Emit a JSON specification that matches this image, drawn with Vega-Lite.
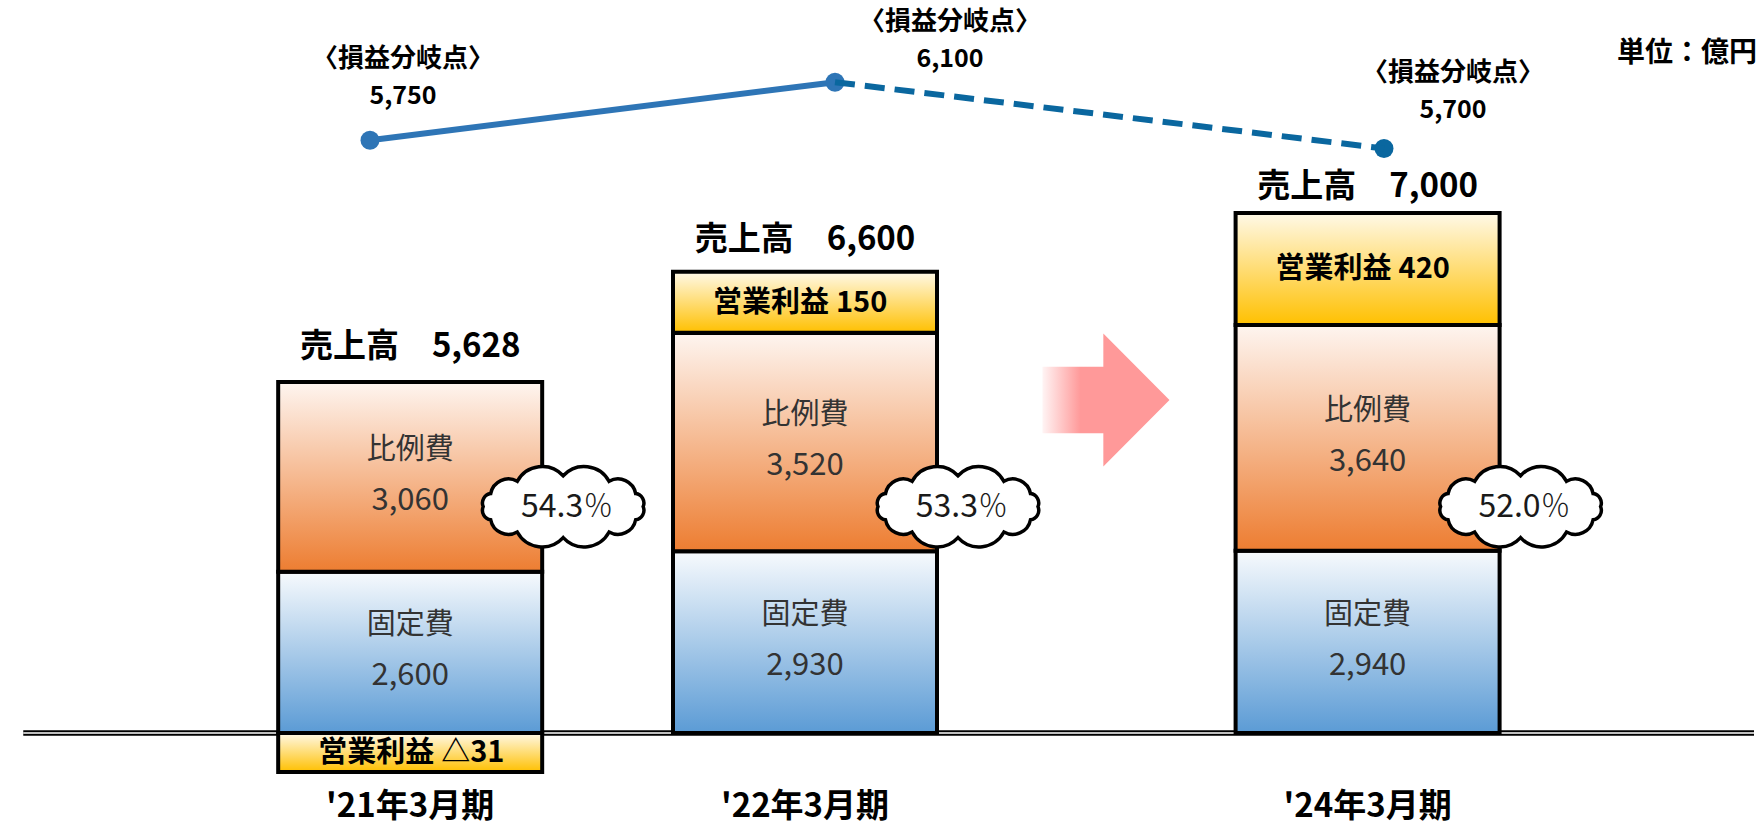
{
  "$schema": "https://vega.github.io/schema/vega-lite/v6.json",
  "width": 1757,
  "height": 830,
  "autosize": {"type": "fit", "contains": "padding"},
  "padding": 0,
  "background": "white",
  "config": {
    "view": {"stroke": null},
    "font": "Noto Sans CJK JP",
    "text": {"font": "Noto Sans CJK JP"},
    "locale": {
      "number": {
        "decimal": ".",
        "thousands": ",",
        "grouping": [3],
        "currency": ["売上高　", ""],
        "minus": "△"
      }
    }
  },
  "datasets": {
    "periods": [
      {"年度": 2021, "期": "'21年3月期", "売上高": 5628, "営業利益": -31, "損益分岐点": 5750, "比例費率": 54.3},
      {"年度": 2022, "期": "'22年3月期", "売上高": 6600, "営業利益": 150, "損益分岐点": 6100, "比例費率": 53.3},
      {"年度": 2024, "期": "'24年3月期", "売上高": 7000, "営業利益": 420, "損益分岐点": 5700, "比例費率": 52.0}
    ],
    "costs": [
      {"年度": 2021, "区分": "固定費", "金額": 2600},
      {"年度": 2021, "区分": "比例費", "金額": 3060},
      {"年度": 2022, "区分": "固定費", "金額": 2930},
      {"年度": 2022, "区分": "比例費", "金額": 3520},
      {"年度": 2024, "区分": "固定費", "金額": 2940},
      {"年度": 2024, "区分": "比例費", "金額": 3640}
    ]
  },
  "layer": [
    {
      "layer": [
        {
          "data": {"values": [{"金額": 0}]},
          "mark": {"type": "rule", "stroke": "black", "strokeWidth": 5.5},
          "encoding": {
            "x": {"datum": 2020.02, "type": "quantitative", "scale": {"domain": [2021, 2022, 2024], "range": [404, 805, 1372], "zero": false, "nice": false}, "axis": null},
            "x2": {"value": "width"},
            "y": {"field": "金額", "type": "quantitative", "scale": {"domain": [-1565, 11822], "zero": false, "nice": false}, "axis": null}
          }
        },
        {
          "data": {"values": [{"金額": 0}]},
          "mark": {"type": "rule", "stroke": "white", "strokeWidth": 1.6},
          "encoding": {
            "x": {"datum": 2020.02, "type": "quantitative", "scale": {"domain": [2021, 2022, 2024], "range": [404, 805, 1372], "zero": false, "nice": false}, "axis": null},
            "x2": {"value": "width"},
            "y": {"field": "金額", "type": "quantitative", "scale": {"domain": [-1565, 11822], "zero": false, "nice": false}, "axis": null}
          }
        },
        {
          "data": {"name": "costs"},
          "transform": [
            {"stack": "金額", "groupby": ["年度"], "sort": [{"field": "区分", "order": "ascending"}], "as": ["下端", "上端"]},
            {"filter": {"field": "区分", "equal": "固定費"}}
          ],
          "mark": {
            "type": "bar", "width": 264, "stroke": "black", "strokeWidth": 4,
            "fill": {"gradient": "linear", "x1": 0, "y1": 0, "x2": 0, "y2": 1, "stops": [{"offset": 0, "color": "#F7FAFD"}, {"offset": 1, "color": "#5B9BD5"}]}
          },
          "encoding": {
            "x": {"field": "年度", "type": "quantitative", "scale": {"domain": [2021, 2022, 2024], "range": [404, 805, 1372], "zero": false, "nice": false}, "axis": null},
            "y": {"field": "下端", "type": "quantitative", "scale": {"domain": [-1565, 11822], "zero": false, "nice": false}, "axis": null},
            "y2": {"field": "上端"}
          }
        },
        {
          "data": {"name": "costs"},
          "transform": [
            {"stack": "金額", "groupby": ["年度"], "sort": [{"field": "区分", "order": "ascending"}], "as": ["下端", "上端"]},
            {"filter": {"field": "区分", "equal": "比例費"}}
          ],
          "mark": {
            "type": "bar", "width": 264, "stroke": "black", "strokeWidth": 4,
            "fill": {"gradient": "linear", "x1": 0, "y1": 0, "x2": 0, "y2": 1, "stops": [{"offset": 0, "color": "#FEF5F0"}, {"offset": 1, "color": "#ED7D31"}]}
          },
          "encoding": {
            "x": {"field": "年度", "type": "quantitative", "scale": {"domain": [2021, 2022, 2024], "range": [404, 805, 1372], "zero": false, "nice": false}, "axis": null},
            "y": {"field": "下端", "type": "quantitative", "scale": {"domain": [-1565, 11822], "zero": false, "nice": false}, "axis": null},
            "y2": {"field": "上端"}
          }
        },
        {
          "data": {"name": "periods"},
          "transform": [{"filter": {"field": "年度", "equal": 2021}}],
          "mark": {
            "type": "bar", "width": 264, "yOffset": 37, "stroke": "black", "strokeWidth": 4,
            "fill": {"gradient": "linear", "x1": 0, "y1": 0, "x2": 0, "y2": 1, "stops": [{"offset": 0, "color": "#FFF9E8"}, {"offset": 1, "color": "#FFC000"}]}
          },
          "encoding": {
            "x": {"field": "年度", "type": "quantitative", "scale": {"domain": [2021, 2022, 2024], "range": [404, 805, 1372], "zero": false, "nice": false}, "axis": null},
            "y": {"field": "営業利益", "type": "quantitative", "scale": {"domain": [-1565, 11822], "zero": false, "nice": false}, "axis": null},
            "y2": {"datum": 0}
          }
        },
        {
          "data": {"name": "periods"},
          "transform": [{"filter": {"field": "年度", "equal": 2022}}],
          "mark": {
            "type": "bar", "width": 264, "yOffset": -52, "y2Offset": 9, "stroke": "black", "strokeWidth": 4,
            "fill": {"gradient": "linear", "x1": 0, "y1": 0, "x2": 0, "y2": 1, "stops": [{"offset": 0, "color": "#FFF9E8"}, {"offset": 1, "color": "#FFC000"}]}
          },
          "encoding": {
            "x": {"field": "年度", "type": "quantitative", "scale": {"domain": [2021, 2022, 2024], "range": [404, 805, 1372], "zero": false, "nice": false}, "axis": null},
            "y": {"field": "売上高", "type": "quantitative", "scale": {"domain": [-1565, 11822], "zero": false, "nice": false}, "axis": null},
            "y2": {"field": "売上高"}
          }
        },
        {
          "data": {"name": "periods"},
          "transform": [{"filter": {"field": "年度", "equal": 2024}}],
          "mark": {
            "type": "bar", "width": 264, "yOffset": -86, "y2Offset": 26, "stroke": "black", "strokeWidth": 4,
            "fill": {"gradient": "linear", "x1": 0, "y1": 0, "x2": 0, "y2": 1, "stops": [{"offset": 0, "color": "#FFF9E8"}, {"offset": 1, "color": "#FFC000"}]}
          },
          "encoding": {
            "x": {"field": "年度", "type": "quantitative", "scale": {"domain": [2021, 2022, 2024], "range": [404, 805, 1372], "zero": false, "nice": false}, "axis": null},
            "y": {"field": "売上高", "type": "quantitative", "scale": {"domain": [-1565, 11822], "zero": false, "nice": false}, "axis": null},
            "y2": {"field": "売上高"}
          }
        },
        {
          "data": {"name": "periods"},
          "transform": [{"filter": {"field": "年度", "equal": 2021}}],
          "mark": {"type": "text", "text": "営業利益", "align": "right", "baseline": "middle", "dx": 24, "dy": 18, "fontSize": 29, "fontWeight": "bold", "color": "#000000"},
          "encoding": {
            "x": {"field": "年度", "type": "quantitative", "scale": {"domain": [2021, 2022, 2024], "range": [404, 805, 1372], "zero": false, "nice": false}, "axis": null},
            "y": {"field": "営業利益", "type": "quantitative", "scale": {"domain": [-1565, 11822], "zero": false, "nice": false}, "axis": null}
          }
        },
        {
          "data": {"name": "periods"},
          "transform": [{"filter": {"field": "年度", "equal": 2021}}],
          "mark": {"type": "text", "align": "left", "baseline": "middle", "dx": 31, "dy": 18, "fontSize": 29, "fontWeight": "bold", "color": "#000000"},
          "encoding": {
            "x": {"field": "年度", "type": "quantitative", "scale": {"domain": [2021, 2022, 2024], "range": [404, 805, 1372], "zero": false, "nice": false}, "axis": null},
            "y": {"field": "営業利益", "type": "quantitative", "scale": {"domain": [-1565, 11822], "zero": false, "nice": false}, "axis": null},
            "text": {"field": "営業利益", "format": ","}
          }
        },
        {
          "data": {"name": "periods"},
          "transform": [{"filter": {"field": "年度", "equal": 2022}}],
          "mark": {"type": "text", "text": "営業利益", "align": "right", "baseline": "middle", "dx": 24, "dy": -21, "fontSize": 29, "fontWeight": "bold", "color": "#000000"},
          "encoding": {
            "x": {"field": "年度", "type": "quantitative", "scale": {"domain": [2021, 2022, 2024], "range": [404, 805, 1372], "zero": false, "nice": false}, "axis": null},
            "y": {"field": "売上高", "type": "quantitative", "scale": {"domain": [-1565, 11822], "zero": false, "nice": false}, "axis": null}
          }
        },
        {
          "data": {"name": "periods"},
          "transform": [{"filter": {"field": "年度", "equal": 2022}}],
          "mark": {"type": "text", "align": "left", "baseline": "middle", "dx": 31, "dy": -21, "fontSize": 29, "fontWeight": "bold", "color": "#000000"},
          "encoding": {
            "x": {"field": "年度", "type": "quantitative", "scale": {"domain": [2021, 2022, 2024], "range": [404, 805, 1372], "zero": false, "nice": false}, "axis": null},
            "y": {"field": "売上高", "type": "quantitative", "scale": {"domain": [-1565, 11822], "zero": false, "nice": false}, "axis": null},
            "text": {"field": "営業利益", "format": ","}
          }
        },
        {
          "data": {"name": "periods"},
          "transform": [{"filter": {"field": "年度", "equal": 2024}}],
          "mark": {"type": "text", "text": "営業利益", "align": "right", "baseline": "middle", "dx": 24, "dy": -30, "fontSize": 29, "fontWeight": "bold", "color": "#000000"},
          "encoding": {
            "x": {"field": "年度", "type": "quantitative", "scale": {"domain": [2021, 2022, 2024], "range": [404, 805, 1372], "zero": false, "nice": false}, "axis": null},
            "y": {"field": "売上高", "type": "quantitative", "scale": {"domain": [-1565, 11822], "zero": false, "nice": false}, "axis": null}
          }
        },
        {
          "data": {"name": "periods"},
          "transform": [{"filter": {"field": "年度", "equal": 2024}}],
          "mark": {"type": "text", "align": "left", "baseline": "middle", "dx": 31, "dy": -30, "fontSize": 29, "fontWeight": "bold", "color": "#000000"},
          "encoding": {
            "x": {"field": "年度", "type": "quantitative", "scale": {"domain": [2021, 2022, 2024], "range": [404, 805, 1372], "zero": false, "nice": false}, "axis": null},
            "y": {"field": "売上高", "type": "quantitative", "scale": {"domain": [-1565, 11822], "zero": false, "nice": false}, "axis": null},
            "text": {"field": "営業利益", "format": ","}
          }
        },
        {
          "data": {"name": "costs"},
          "mark": {"type": "text", "baseline": "middle", "dy": -27, "fontSize": 29, "fontWeight": "normal", "color": "#333333"},
          "encoding": {
            "x": {"field": "年度", "type": "quantitative", "scale": {"domain": [2021, 2022, 2024], "range": [404, 805, 1372], "zero": false, "nice": false}, "axis": null},
            "y": {"field": "金額", "type": "quantitative", "stack": "zero", "bandPosition": 0.5, "scale": {"domain": [-1565, 11822], "zero": false, "nice": false}, "axis": null},
            "detail": {"field": "区分"},
            "order": {"field": "区分", "type": "ordinal"},
            "text": {"field": "区分"}
          }
        },
        {
          "data": {"name": "costs"},
          "mark": {"type": "text", "baseline": "middle", "dy": 24, "fontSize": 31, "fontWeight": "normal", "color": "#333333"},
          "encoding": {
            "x": {"field": "年度", "type": "quantitative", "scale": {"domain": [2021, 2022, 2024], "range": [404, 805, 1372], "zero": false, "nice": false}, "axis": null},
            "y": {"field": "金額", "type": "quantitative", "stack": "zero", "bandPosition": 0.5, "scale": {"domain": [-1565, 11822], "zero": false, "nice": false}, "axis": null},
            "detail": {"field": "区分"},
            "order": {"field": "区分", "type": "ordinal"},
            "text": {"field": "金額", "format": ","}
          }
        },
        {
          "data": {"name": "periods"},
          "mark": {
            "type": "point", "filled": true, "fill": "white", "stroke": "black", "strokeWidth": 3.5, "opacity": 1, "xOffset": 153, "size": 29584,
            "shape": "M 0.93 0 A 0.11 0.11 0 0 1 0.843 0.152 A 0.21 0.21 0 0 1 0.534 0.295 A 0.33 0.33 0 0 1 0 0.36 A 0.33 0.33 0 0 1 -0.534 0.295 A 0.21 0.21 0 0 1 -0.843 0.152 A 0.11 0.11 0 0 1 -0.93 0 A 0.11 0.11 0 0 1 -0.843 -0.152 A 0.21 0.21 0 0 1 -0.534 -0.295 A 0.33 0.33 0 0 1 0 -0.36 A 0.33 0.33 0 0 1 0.534 -0.295 A 0.21 0.21 0 0 1 0.843 -0.152 A 0.11 0.11 0 0 1 0.93 0 Z"
          },
          "encoding": {
            "x": {"field": "年度", "type": "quantitative", "scale": {"domain": [2021, 2022, 2024], "range": [404, 805, 1372], "zero": false, "nice": false}, "axis": null},
            "y": {"datum": 3650, "type": "quantitative", "scale": {"domain": [-1565, 11822], "zero": false, "nice": false}, "axis": null}
          }
        },
        {
          "data": {"name": "periods"},
          "mark": {"type": "text", "align": "right", "baseline": "middle", "dx": 173, "fontSize": 32, "fontWeight": "normal", "color": "#1A1A1A"},
          "encoding": {
            "x": {"field": "年度", "type": "quantitative", "scale": {"domain": [2021, 2022, 2024], "range": [404, 805, 1372], "zero": false, "nice": false}, "axis": null},
            "y": {"datum": 3650, "type": "quantitative", "scale": {"domain": [-1565, 11822], "zero": false, "nice": false}, "axis": null},
            "text": {"field": "比例費率", "format": ".1f"}
          }
        },
        {
          "data": {"name": "periods"},
          "mark": {"type": "text", "text": "％", "align": "left", "baseline": "middle", "dx": 173, "fontSize": 30, "fontWeight": 300, "color": "#1A1A1A"},
          "encoding": {
            "x": {"field": "年度", "type": "quantitative", "scale": {"domain": [2021, 2022, 2024], "range": [404, 805, 1372], "zero": false, "nice": false}, "axis": null},
            "y": {"datum": 3650, "type": "quantitative", "scale": {"domain": [-1565, 11822], "zero": false, "nice": false}, "axis": null}
          }
        },
        {
          "data": {"values": [{"注記": "見通し"}]},
          "mark": {
            "type": "point", "filled": true, "opacity": 1, "strokeWidth": 0, "size": 17689,
            "shape": "M -0.955 -0.5 L -0.04 -0.5 L -0.04 -1 L 0.955 0 L -0.04 1 L -0.04 0.5 L -0.955 0.5 Z",
            "fill": {"gradient": "linear", "x1": 0, "y1": 0, "x2": 1, "y2": 0, "stops": [{"offset": 0, "color": "#FFF4F4"}, {"offset": 0.3, "color": "#FF9999"}, {"offset": 1, "color": "#FF9999"}]}
          },
          "encoding": {
            "x": {"datum": 2023.07, "type": "quantitative", "scale": {"domain": [2021, 2022, 2024], "range": [404, 805, 1372], "zero": false, "nice": false}, "axis": null},
            "y": {"datum": 5371, "type": "quantitative", "scale": {"domain": [-1565, 11822], "zero": false, "nice": false}, "axis": null}
          }
        },
        {
          "data": {"name": "periods"},
          "transform": [{"filter": {"field": "年度", "equal": 2021}}],
          "mark": {"type": "text", "baseline": "middle", "dy": -37, "fontSize": 33, "fontWeight": "bold", "color": "#000000"},
          "encoding": {
            "x": {"field": "年度", "type": "quantitative", "scale": {"domain": [2021, 2022, 2024], "range": [404, 805, 1372], "zero": false, "nice": false}, "axis": null},
            "y": {"field": "売上高", "type": "quantitative", "scale": {"domain": [-1565, 11822], "zero": false, "nice": false}, "axis": null},
            "text": {"field": "売上高", "format": "$,"}
          }
        },
        {
          "data": {"name": "periods"},
          "transform": [{"filter": {"field": "年度", "equal": 2022}}],
          "mark": {"type": "text", "baseline": "middle", "dy": -84, "fontSize": 33, "fontWeight": "bold", "color": "#000000"},
          "encoding": {
            "x": {"field": "年度", "type": "quantitative", "scale": {"domain": [2021, 2022, 2024], "range": [404, 805, 1372], "zero": false, "nice": false}, "axis": null},
            "y": {"field": "売上高", "type": "quantitative", "scale": {"domain": [-1565, 11822], "zero": false, "nice": false}, "axis": null},
            "text": {"field": "売上高", "format": "$,"}
          }
        },
        {
          "data": {"name": "periods"},
          "transform": [{"filter": {"field": "年度", "equal": 2024}}],
          "mark": {"type": "text", "baseline": "middle", "dy": -112, "fontSize": 33, "fontWeight": "bold", "color": "#000000"},
          "encoding": {
            "x": {"field": "年度", "type": "quantitative", "scale": {"domain": [2021, 2022, 2024], "range": [404, 805, 1372], "zero": false, "nice": false}, "axis": null},
            "y": {"field": "売上高", "type": "quantitative", "scale": {"domain": [-1565, 11822], "zero": false, "nice": false}, "axis": null},
            "text": {"field": "売上高", "format": "$,"}
          }
        },
        {
          "data": {"name": "periods"},
          "mark": {"type": "text", "baseline": "middle", "fontSize": 33, "fontWeight": "bold", "color": "#000000"},
          "encoding": {
            "x": {"field": "年度", "type": "quantitative", "scale": {"domain": [2021, 2022, 2024], "range": [404, 805, 1372], "zero": false, "nice": false}, "axis": null},
            "y": {"datum": -1194, "type": "quantitative", "scale": {"domain": [-1565, 11822], "zero": false, "nice": false}, "axis": null},
            "text": {"field": "期"}
          }
        },
        {
          "data": {"values": [{"注記": "単位：億円"}]},
          "mark": {"type": "text", "align": "right", "baseline": "middle", "dx": 3, "fontSize": 28, "fontWeight": "bold", "color": "#000000"},
          "encoding": {
            "x": {"value": "width"},
            "y": {"datum": 10950, "type": "quantitative", "scale": {"domain": [-1565, 11822], "zero": false, "nice": false}, "axis": null},
            "text": {"field": "注記"}
          }
        }
      ]
    },
    {
      "data": {"name": "periods"},
      "layer": [
        {
          "transform": [{"filter": {"field": "年度", "lte": 2022}}],
          "mark": {"type": "line", "color": "#2E75B6", "strokeWidth": 6},
          "encoding": {
            "x": {"field": "年度", "type": "quantitative", "scale": {"domain": [2021, 2022, 2024], "range": [370, 835, 1384], "zero": false, "nice": false}, "axis": null},
            "y": {"field": "損益分岐点", "type": "quantitative", "scale": {"domain": [1587, 6596], "zero": false, "nice": false}, "axis": null}
          }
        },
        {
          "mark": {"type": "point", "filled": true, "size": 360, "opacity": 1},
          "encoding": {
            "x": {"field": "年度", "type": "quantitative", "scale": {"domain": [2021, 2022, 2024], "range": [370, 835, 1384], "zero": false, "nice": false}, "axis": null},
            "y": {"field": "損益分岐点", "type": "quantitative", "scale": {"domain": [1587, 6596], "zero": false, "nice": false}, "axis": null},
            "color": {"condition": {"test": {"field": "年度", "gt": 2022}, "value": "#0A679F"}, "value": "#2E75B6"}
          }
        },
        {
          "transform": [{"filter": {"field": "年度", "gte": 2022}}],
          "mark": {"type": "line", "color": "#0A679F", "strokeWidth": 6, "strokeDash": [20, 10]},
          "encoding": {
            "x": {"field": "年度", "type": "quantitative", "scale": {"domain": [2021, 2022, 2024], "range": [370, 835, 1384], "zero": false, "nice": false}, "axis": null},
            "y": {"field": "損益分岐点", "type": "quantitative", "scale": {"domain": [1587, 6596], "zero": false, "nice": false}, "axis": null}
          }
        }
      ]
    },
    {
      "data": {"name": "periods"},
      "layer": [
        {
          "mark": {"type": "text", "text": "〈損益分岐点〉", "baseline": "middle", "dy": -3, "fontSize": 26, "fontWeight": "bold", "color": "#000000"},
          "encoding": {
            "x": {"field": "年度", "type": "quantitative", "scale": {"domain": [2021, 2022, 2024], "range": [403, 950, 1453], "zero": false, "nice": false}, "axis": null},
            "y": {"field": "損益分岐点", "type": "quantitative", "scale": {"domain": [5700, 5750, 6100], "range": [76, 62, 25], "zero": false, "nice": false}, "axis": null}
          }
        },
        {
          "mark": {"type": "text", "baseline": "middle", "dy": 34, "fontSize": 25, "fontWeight": "bold", "color": "#000000"},
          "encoding": {
            "x": {"field": "年度", "type": "quantitative", "scale": {"domain": [2021, 2022, 2024], "range": [403, 950, 1453], "zero": false, "nice": false}, "axis": null},
            "y": {"field": "損益分岐点", "type": "quantitative", "scale": {"domain": [5700, 5750, 6100], "range": [76, 62, 25], "zero": false, "nice": false}, "axis": null},
            "text": {"field": "損益分岐点", "format": ","}
          }
        }
      ]
    }
  ],
  "resolve": {"scale": {"x": "independent", "y": "independent"}}
}
